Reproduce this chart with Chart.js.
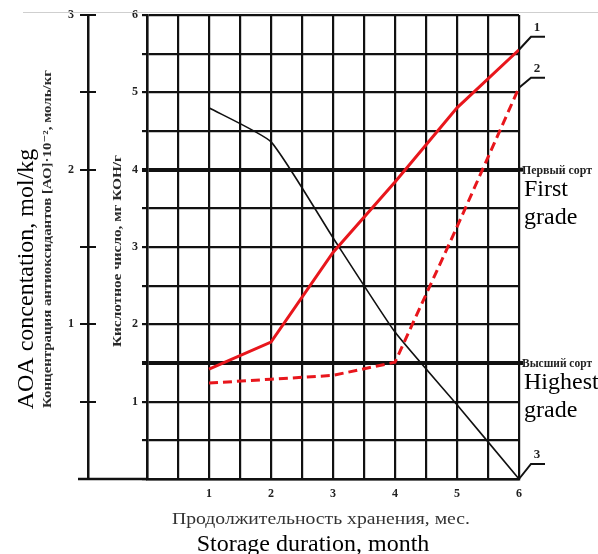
<!DOCTYPE html>
<html>
<head>
<meta charset="UTF-8" />
<title>Acid number and AOA concentration during storage</title>
<script src="https://cdn.jsdelivr.net/npm/chart.js@4"></script>
<style>
  *{box-sizing:border-box}
  body{margin:0;background:#fff;}
  .wrap{width:598px;height:554px;position:relative;}
</style>
</head>
<body>
<div class="wrap"><canvas id="chart" width="598" height="554"></canvas></div>
<script>
// months of storage
const months = [1, 2, 3, 4, 5, 6];
// curve 1 and 2: acid number, mg KOH/g (inner axis)
const acid1 = [1.42, 1.77, 2.93, 3.84, 4.8, 5.55];
const acid2 = [1.24, 1.29, 1.34, 1.51, 3.26, 5.06];
// curve 3: AOA concentration, mol/kg (outer axis)
const aoa3 = [2.40, 2.18, 1.56, 0.95, 0.48, 0];

const xTickLabels = ['1', '2', '3', '4', '5', '6'];
const acidTickLabels = ['1', '2', '3', '4', '5', '6'];
const aoaTickLabels = ['1', '2', '3'];
const curveLabels = ['1', '2', '3'];

// grade limits on the acid number axis
const gradeValues = [4, 1.5];
const gradeRu = ['Первый сорт', 'Высший сорт'];
const gradeEn = [['First', 'grade'], ['Highest', 'grade']];

const RED = '#e8161c';
const SERIF = "'Liberation Serif', 'DejaVu Serif', serif";

function pts(ys){ return months.map((m, i) => ({x: m, y: ys[i]})); }
function intLabel(list){
  return v => (Number.isInteger(v) && list.includes(String(v))) ? String(v) : '';
}

// text stretched to a given length (the scanned labels are wide and squat)
function fitText(ctx, text, x, y, font, width, rotated){
  ctx.save();
  ctx.translate(x, y);
  if (rotated) ctx.rotate(-Math.PI / 2);
  ctx.font = font;
  ctx.textAlign = 'center';
  ctx.textBaseline = 'alphabetic';
  const w = ctx.measureText(text).width;
  if (width) ctx.scale(width / w, 1);
  ctx.fillText(text, 0, 0);
  ctx.restore();
}

const decor = {
  id: 'decor',
  afterDraw(chart){
    const ctx = chart.ctx;
    const a = chart.chartArea;
    const ys = chart.scales.y, y2 = chart.scales.y2;
    ctx.save();
    // thin grey top rule
    ctx.strokeStyle = '#cfcfcf'; ctx.lineWidth = 1;
    ctx.beginPath(); ctx.moveTo(23, 12.5); ctx.lineTo(598, 12.5); ctx.stroke();

    ctx.strokeStyle = '#111';
    // bottom line continued under the left axes
    ctx.lineWidth = 2.5;
    ctx.beginPath(); ctx.moveTo(78, a.bottom); ctx.lineTo(a.left, a.bottom); ctx.stroke();
    // outer axis ticks cross the line
    ctx.lineWidth = 2;
    for (let v = 0.5; v <= 3; v += 0.5){
      const py = Math.round(y2.getPixelForValue(v));
      ctx.beginPath(); ctx.moveTo(y2.right, py); ctx.lineTo(y2.right + 8, py); ctx.stroke();
    }
    // grade lines run a little past the grid
    ctx.lineWidth = 4;
    gradeValues.forEach(v => {
      const py = ys.getPixelForValue(v);
      ctx.beginPath(); ctx.moveTo(a.right, py); ctx.lineTo(a.right + 4, py); ctx.stroke();
    });

    // leader lines and curve numbers
    ctx.lineWidth = 2;
    ctx.fillStyle = '#222';
    ctx.font = 'bold 13px ' + SERIF;
    ctx.textAlign = 'center';
    ctx.textBaseline = 'alphabetic';
    const rise = [13, 10, 15];
    chart.data.datasets.forEach((ds, i) => {
      const meta = chart.getDatasetMeta(i);
      const p = meta.data[meta.data.length - 1];
      const ex = p.x + 12, ey = p.y - rise[i];
      ctx.beginPath(); ctx.moveTo(p.x, p.y); ctx.lineTo(ex, ey); ctx.lineTo(ex + 14, ey); ctx.stroke();
      ctx.fillText(curveLabels[i], ex + 6, ey - 6);
    });

    // grade labels on the right
    gradeValues.forEach((v, i) => {
      const py = ys.getPixelForValue(v);
      ctx.fillStyle = '#222';
      fitText(ctx, gradeRu[i], a.right + 38, py + 4, 'bold 12px ' + SERIF, 70, false);
      ctx.fillStyle = '#000';
      ctx.font = '24px ' + SERIF;
      ctx.textAlign = 'left';
      ctx.fillText(gradeEn[i][0], a.right + 5, py + 26);
      ctx.fillText(gradeEn[i][1], a.right + 5, py + 54);
    });

    // axis titles
    ctx.fillStyle = '#000';
    fitText(ctx, 'AOA concentation, mol/kg', 33, 279, '24px ' + SERIF, 0, true);
    ctx.fillStyle = '#2a2a2a';
    fitText(ctx, 'Концентрация антиоксидантов [АО]·10⁻², моль/кг', 51, 239, 'bold 12px ' + SERIF, 338, true);
    fitText(ctx, 'Кислотное число, мг КОН/г', 121, 251, 'bold 12px ' + SERIF, 192, true);
    ctx.fillStyle = '#333';
    fitText(ctx, 'Продолжительность хранения, мес.', 321, 524, '17px ' + SERIF, 298, false);
    ctx.fillStyle = '#000';
    fitText(ctx, 'Storage duration, month', 313, 551, '24px ' + SERIF, 0, false);
    ctx.restore();
  }
};

new Chart(document.getElementById('chart'), {
  type: 'line',
  data: {
    datasets: [
      {label: '1', data: pts(acid1), yAxisID: 'y', borderColor: RED, borderWidth: 3, pointRadius: 0, tension: 0},
      {label: '2', data: pts(acid2), yAxisID: 'y', borderColor: RED, borderWidth: 3, borderDash: [9, 5], pointRadius: 0, tension: 0},
      {label: '3', data: pts(aoa3), yAxisID: 'y2', borderColor: '#111', borderWidth: 1.6, pointRadius: 0, tension: 0.15}
    ]
  },
  options: {
    responsive: false,
    animation: false,
    devicePixelRatio: 1,
    layout: {padding: {left: 0, right: 79, top: 15, bottom: 0}},
    plugins: {legend: {display: false}, tooltip: {enabled: false}},
    scales: {
      x: {
        type: 'linear', min: 0, max: 6,
        afterFit: s => { s.height = 75; },
        afterBuildTicks: s => { s.ticks = Array.from({length: 13}, (_, i) => ({value: i * 0.5})); },
        grid: {color: '#111', lineWidth: 2.2, drawTicks: false},
        border: {color: '#111', width: 2.5},
        ticks: {autoSkip: false, maxRotation: 0, padding: 8, color: '#222',
          font: {family: SERIF, size: 12, weight: 'bold'}, callback: intLabel(xTickLabels)}
      },
      y: {
        type: 'linear', position: 'left', min: 0, max: 6, weight: 1,
        afterFit: s => { s.width = 59; },
        afterBuildTicks: s => { s.ticks = Array.from({length: 13}, (_, i) => ({value: i * 0.5})); },
        grid: {
          color: '#111', tickLength: 5,
          lineWidth: c => (c.tick && gradeValues.includes(c.tick.value)) ? 4 : 2.2
        },
        border: {color: '#111', width: 2.5},
        ticks: {autoSkip: false, padding: 4, color: '#222',
          font: {family: SERIF, size: 12, weight: 'bold'}, callback: intLabel(acidTickLabels)}
      },
      y2: {
        type: 'linear', position: 'left', min: 0, max: 3, weight: 2,
        afterFit: s => { s.width = 88; },
        afterBuildTicks: s => { s.ticks = Array.from({length: 7}, (_, i) => ({value: i * 0.5})); },
        grid: {drawOnChartArea: false, color: '#111', lineWidth: 2, tickLength: 8},
        border: {color: '#111', width: 2.5},
        ticks: {autoSkip: false, padding: 6, color: '#222',
          font: {family: SERIF, size: 12, weight: 'bold'}, callback: intLabel(aoaTickLabels)}
      }
    }
  },
  plugins: [decor]
});
</script>
</body>
</html>
